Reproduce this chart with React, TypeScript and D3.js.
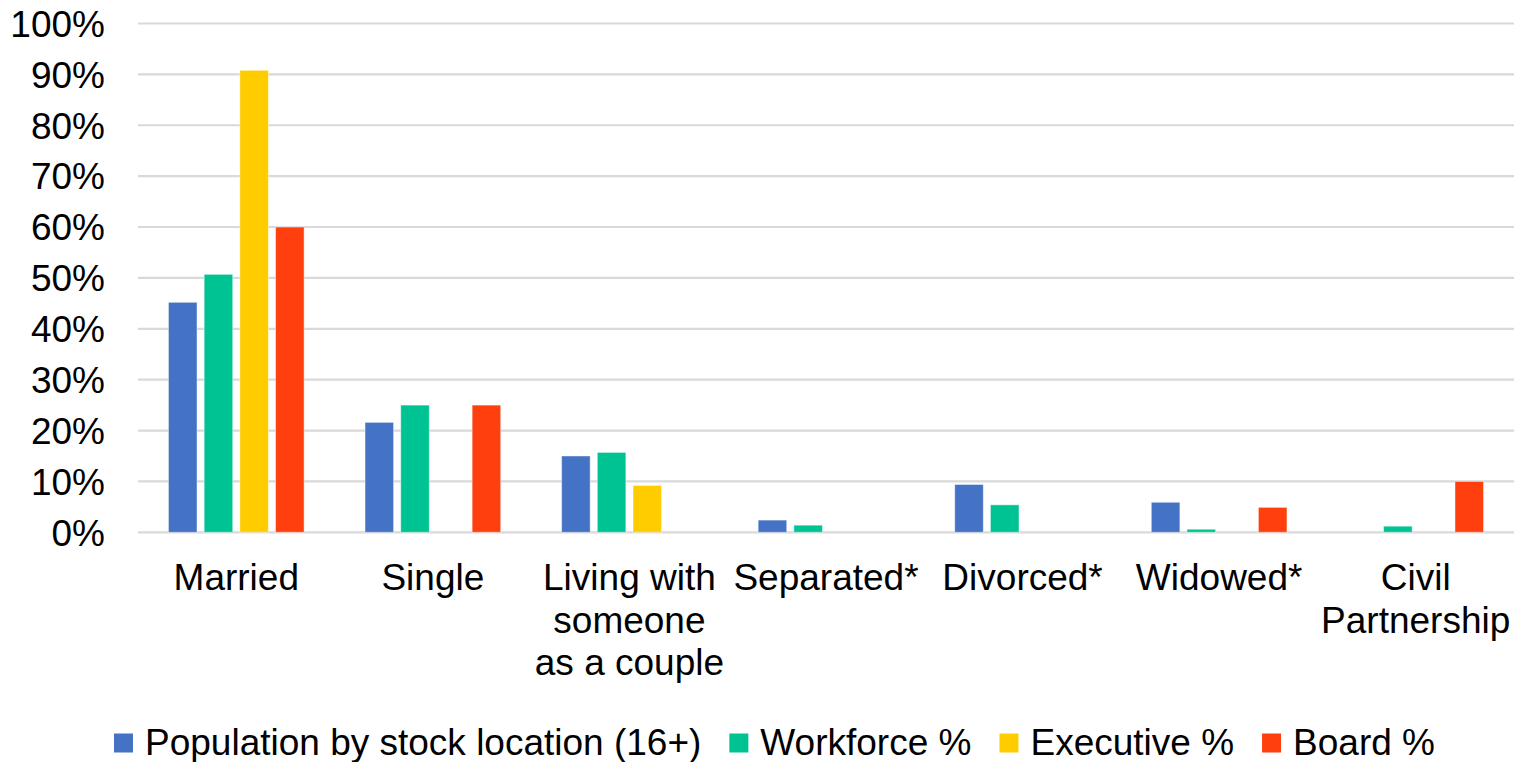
import React, { useEffect, useRef } from "react";
import * as d3 from "d3";

const categories = [
  ["Married"],
  ["Single"],
  ["Living with", "someone", "as a couple"],
  ["Separated*"],
  ["Divorced*"],
  ["Widowed*"],
  ["Civil", "Partnership"],
];
const seriesNames = ["Population by stock location (16+)", "Workforce %", "Executive %", "Board %"];
const seriesColors = ["#4472C4", "#00C393", "#FFCC00", "#FF400E"];
const population = [45.2, 21.6, 15.0, 2.4, 9.4, 5.9, 0];
const workforce = [50.7, 25.0, 15.7, 1.4, 5.4, 0.6, 1.2];
const executive = [90.8, 0, 9.2, 0, 0, 0, 0];
const board = [60.0, 25.0, 0, 0, 0, 4.9, 10.0];
const yTicks = [0, 10, 20, 30, 40, 50, 60, 70, 80, 90, 100];

const W = 1514;
const H = 762;
const FONT = "'Liberation Sans', Arial, sans-serif";
const FS = 37;

export default function App() {
  const ref = useRef<SVGSVGElement>(null);
  useEffect(() => {
    const svg = d3.select(ref.current);
    svg.selectAll("*").remove();
    const seriesValues = [population, workforce, executive, board];
    const catKeys = categories.map((c) => c.join(" "));

    const x0 = d3.scaleBand<string>().domain(catKeys).range([138, 1514]).padding(0);
    const x1 = d3
      .scaleBand<string>()
      .domain(seriesNames)
      .range([0, x0.bandwidth()])
      .paddingInner(0.2)
      .paddingOuter(0.853);
    const y = d3.scaleLinear().domain([0, 100]).range([532.3, 23.5]);

    // gridlines
    svg
      .append("g")
      .selectAll("line")
      .data(yTicks)
      .join("line")
      .attr("x1", 138)
      .attr("x2", 1514)
      .attr("y1", (d) => y(d))
      .attr("y2", (d) => y(d))
      .attr("stroke", "#D9D9D9")
      .attr("stroke-width", 2.2);

    // y tick labels
    svg
      .append("g")
      .selectAll("text")
      .data(yTicks)
      .join("text")
      .attr("x", 105)
      .attr("y", (d) => y(d))
      .attr("dy", "0.36em")
      .attr("text-anchor", "end")
      .attr("font-family", FONT)
      .attr("font-size", FS)
      .attr("fill", "#000")
      .text((d) => `${d}%`);

    // bars
    seriesNames.forEach((s, si) => {
      svg
        .append("g")
        .selectAll("rect")
        .data(seriesValues[si].map((v, i) => ({ v, k: catKeys[i] })).filter((d) => d.v > 0))
        .join("rect")
        .attr("x", (d) => (x0(d.k) as number) + (x1(s) as number))
        .attr("width", x1.bandwidth())
        .attr("y", (d) => y(d.v))
        .attr("height", (d) => y(0) - y(d.v))
        .attr("fill", seriesColors[si])
        .attr("stroke", "rgba(255,255,255,0.45)")
        .attr("stroke-width", 1);
    });

    // category labels
    const cg = svg.append("g");
    categories.forEach((lines, i) => {
      const cx = (x0(catKeys[i]) as number) + x0.bandwidth() / 2;
      const t = cg
        .append("text")
        .attr("text-anchor", "middle")
        .attr("font-family", FONT)
        .attr("font-size", FS)
        .attr("fill", "#000");
      lines.forEach((ln, li) => {
        t.append("tspan").attr("x", cx).attr("y", 590 + li * 42.5).text(ln);
      });
    });

    // legend
    const lg = svg.append("g");
    let lx = 114;
    seriesNames.forEach((s, si) => {
      lg.append("rect")
        .attr("x", lx)
        .attr("y", 733.5)
        .attr("width", 19)
        .attr("height", 19)
        .attr("fill", seriesColors[si]);
      const t = lg
        .append("text")
        .attr("x", lx + 31)
        .attr("y", 755)
        .attr("font-family", FONT)
        .attr("font-size", FS)
        .attr("fill", "#000")
        .text(s);
      const w = (t.node() as SVGTextElement).getComputedTextLength();
      lx = lx + 31 + w + 28;
    });
  }, []);

  return (
    <svg
      ref={ref}
      width={W}
      height={H}
      style={{ position: "absolute", left: 0, top: 0, background: "#fff" }}
    />
  );
}
